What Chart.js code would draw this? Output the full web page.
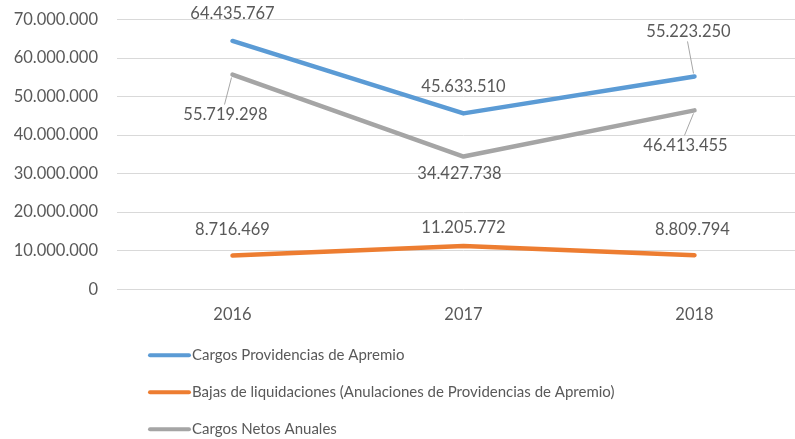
<!DOCTYPE html>
<html lang="es">
<head>
<meta charset="utf-8">
<title>Cargos Providencias de Apremio</title>
<script src="https://cdn.jsdelivr.net/npm/chart.js@4.4.1/dist/chart.umd.min.js"></script>
<style>
  html, body { margin: 0; padding: 0; background: #fff; overflow: hidden; }
  #wrap { width: 810px; height: 439px; }
</style>
</head>
<body>
<div id="wrap"><canvas id="chart" width="810" height="439"></canvas></div>
<script>
// Years on the x axis
const YEARS = ['2016', '2017', '2018'];

// Series values (euros)
const CARGOS_PROVIDENCIAS = [64435767, 45633510, 55223250];
const BAJAS_LIQUIDACIONES = [8716469, 11205772, 8809794];
const CARGOS_NETOS = [55719298, 34427738, 46413455];

// Series names
const SERIES_NAMES = [
  'Cargos Providencias de Apremio',
  'Bajas de liquidaciones (Anulaciones de Providencias de Apremio)',
  'Cargos Netos Anuales'
];

const TEXT_COLOR = '#595959';
const FONT = 'Lato, "Open Sans", sans-serif';
const FONT_SIZE = 16.5;

// Format numbers with dots as thousand separators
function formatNum(v) {
  return String(Math.round(v)).replace(/\B(?=(\d{3})+(?!\d))/g, '.');
}

// Where each value label sits relative to its point, plus optional leader line
const LABEL_PLACEMENT = [
  [{ dx: 0, dy: -27 }, { dx: 0, dy: -27 }, { dx: -6, dy: -45, leader: true }],
  [{ dx: 0, dy: -26 }, { dx: 0, dy: -18 }, { dx: -2, dy: -26 }],
  [{ dx: -7, dy: 40, leader: true }, { dx: -4, dy: 17 }, { dx: -9, dy: 35, leader: true }]
];

// Draw the value labels next to each point
const valueLabels = {
  id: 'valueLabels',
  afterDatasetsDraw(chart) {
    const ctx = chart.ctx;
    ctx.save();
    ctx.font = FONT_SIZE + 'px ' + FONT;
    ctx.textAlign = 'center';
    ctx.textBaseline = 'middle';
    chart.data.datasets.forEach((ds, i) => {
      const meta = chart.getDatasetMeta(i);
      meta.data.forEach((pt, j) => {
        const p = LABEL_PLACEMENT[i][j];
        const lx = pt.x + p.dx;
        const ly = pt.y + p.dy;
        if (p.leader) {
          const edge = p.dy < 0 ? ly + 10 : ly - 10;
          ctx.strokeStyle = '#a6a6a6';
          ctx.lineWidth = 1;
          ctx.beginPath();
          ctx.moveTo(lx - 1, edge);
          ctx.lineTo(pt.x - 1, pt.y + (p.dy < 0 ? -3 : 3));
          ctx.stroke();
        }
        ctx.fillStyle = TEXT_COLOR;
        ctx.fillText(formatNum(ds.data[j]), lx, ly);
      });
    });
    ctx.restore();
  }
};

// Legend stacked one entry per row under the plot
const stackedLegend = {
  id: 'stackedLegend',
  afterDraw(chart) {
    const ctx = chart.ctx;
    const area = chart.chartArea;
    const x0 = 148;
    const y0 = area.bottom + 66;
    ctx.save();
    ctx.font = '15px ' + FONT;
    ctx.textAlign = 'left';
    ctx.textBaseline = 'middle';
    chart.data.datasets.forEach((ds, i) => {
      const y = y0 + i * 37;
      ctx.strokeStyle = ds.borderColor;
      ctx.lineWidth = 4;
      ctx.lineCap = 'round';
      ctx.beginPath();
      ctx.moveTo(x0 + 2, y);
      ctx.lineTo(x0 + 41, y);
      ctx.stroke();
      ctx.fillStyle = TEXT_COLOR;
      ctx.fillText(ds.label, x0 + 44, y);
    });
    ctx.restore();
  }
};

new Chart(document.getElementById('chart'), {
  type: 'line',
  data: {
    labels: YEARS,
    datasets: [
      { label: SERIES_NAMES[0], data: CARGOS_PROVIDENCIAS, borderColor: '#5b9bd5' },
      { label: SERIES_NAMES[1], data: BAJAS_LIQUIDACIONES, borderColor: '#ed7d31' },
      { label: SERIES_NAMES[2], data: CARGOS_NETOS, borderColor: '#a5a5a5' }
    ].map(d => Object.assign(d, {
      borderWidth: 4.5,
      pointRadius: 0,
      tension: 0,
      fill: false,
      borderCapStyle: 'round',
      borderJoinStyle: 'round'
    }))
  },
  options: {
    responsive: false,
    animation: false,
    layout: { padding: { top: 0, left: 0, right: 0, bottom: 106 } },
    plugins: {
      legend: { display: false },
      tooltip: { enabled: false }
    },
    scales: {
      x: {
        offset: true,
        grid: { display: false },
        border: { display: false },
        ticks: { color: TEXT_COLOR, font: { family: FONT, size: FONT_SIZE }, padding: 8 }
      },
      y: {
        min: 0,
        max: 70000000,
        grid: { color: '#d9d9d9', lineWidth: 1, drawTicks: false },
        border: { display: false },
        ticks: {
          stepSize: 10000000,
          color: TEXT_COLOR,
          font: { family: FONT, size: FONT_SIZE },
          padding: 19,
          callback: v => formatNum(v)
        },
        // fixed axis width and top gap so the plot starts where the labels need it
        afterFit(scale) {
          scale.width = 117;
          scale.paddingTop = 19.5;
          scale.paddingBottom = 10;
        }
      }
    }
  },
  plugins: [valueLabels, stackedLegend]
});
</script>
</body>
</html>
